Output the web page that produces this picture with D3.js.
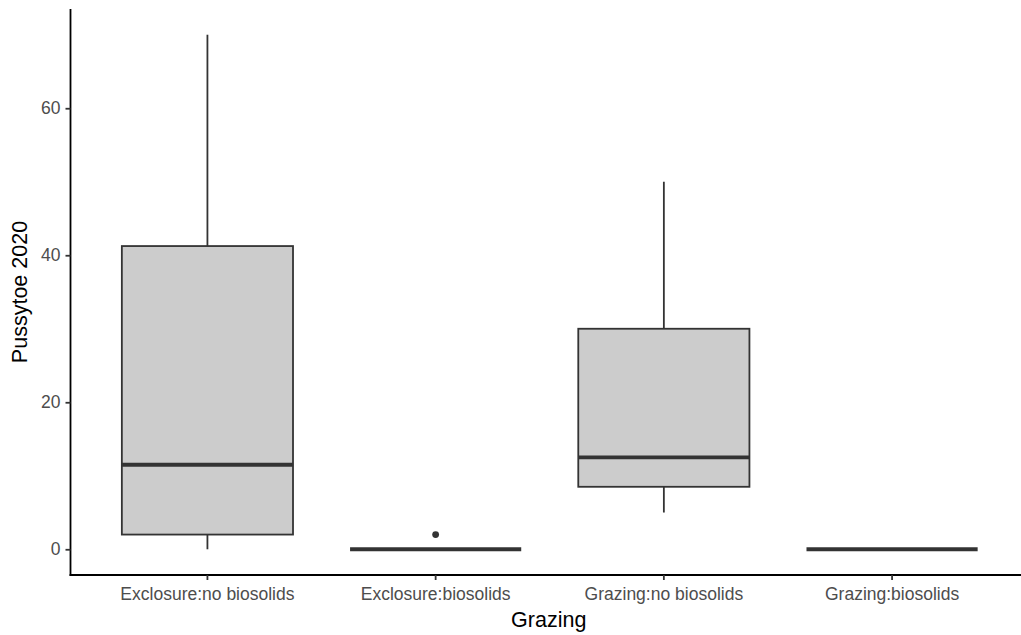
<!DOCTYPE html>
<html>
<head>
<meta charset="utf-8">
<script src="https://cdn.jsdelivr.net/npm/d3@7"></script>
<style>
  html, body { margin: 0; padding: 0; background: #ffffff; }
  svg { display: block; }
</style>
</head>
<body>
<script>
// Pussytoe cover in 2020 by grazing / biosolids treatment
const categories = ["Exclosure:no biosolids", "Exclosure:biosolids", "Grazing:no biosolids", "Grazing:biosolids"];
const whiskerLow  = [0, 0, 5, 0];
const q1          = [2, 0, 8.5, 0];
const medians     = [11.5, 0, 12.5, 0];
const q3          = [41.25, 0, 30, 0];
const whiskerHigh = [70, 0, 50, 0];
const outliers    = [[], [2], [], []];
const yTicks      = [0, 20, 40, 60];

const W = 1021, H = 635;
const panel = { left: 70.5, right: 1029, top: 9, bottom: 575 };
const font = "'Liberation Sans', Arial, sans-serif";

const svg = d3.select("body").append("svg")
  .attr("width", W).attr("height", H);

const x = d3.scaleBand()
  .domain(categories)
  .range([panel.left, panel.right])
  .paddingInner(0.25)
  .paddingOuter(0.225);

const y = d3.scaleLinear()
  .domain([-3.5, 73.5])
  .range([panel.bottom, panel.top]);

const boxes = categories.map((c, i) => ({
  cat: c, lo: whiskerLow[i], q1: q1[i], med: medians[i], q3: q3[i], hi: whiskerHigh[i], out: outliers[i]
}));

const g = svg.append("g");
const stroke = "#333333";
const lw = 1.8;
const cx = d => x(d.cat) + x.bandwidth() / 2;

// whiskers
g.selectAll("line.whisk-up").data(boxes).join("line")
  .attr("class", "whisk-up")
  .attr("x1", cx).attr("x2", cx)
  .attr("y1", d => y(d.q3)).attr("y2", d => y(d.hi))
  .attr("stroke", stroke).attr("stroke-width", lw);
g.selectAll("line.whisk-down").data(boxes).join("line")
  .attr("class", "whisk-down")
  .attr("x1", cx).attr("x2", cx)
  .attr("y1", d => y(d.q1)).attr("y2", d => y(d.lo))
  .attr("stroke", stroke).attr("stroke-width", lw);

// boxes
g.selectAll("rect.box").data(boxes).join("rect")
  .attr("class", "box")
  .attr("x", d => x(d.cat))
  .attr("width", x.bandwidth())
  .attr("y", d => y(d.q3))
  .attr("height", d => y(d.q1) - y(d.q3))
  .attr("fill", "#CCCCCC")
  .attr("stroke", stroke).attr("stroke-width", lw);

// medians
g.selectAll("line.median").data(boxes).join("line")
  .attr("class", "median")
  .attr("x1", d => x(d.cat)).attr("x2", d => x(d.cat) + x.bandwidth())
  .attr("y1", d => y(d.med)).attr("y2", d => y(d.med))
  .attr("stroke", stroke).attr("stroke-width", 3.8);

// outliers
g.selectAll("g.outliers").data(boxes).join("g")
  .attr("class", "outliers")
  .selectAll("circle").data(d => d.out.map(v => ({ cat: d.cat, v }))).join("circle")
  .attr("cx", cx)
  .attr("cy", d => y(d.v))
  .attr("r", 3.4)
  .attr("fill", stroke);

// axes
const xAxis = svg.append("g")
  .attr("transform", `translate(0,${panel.bottom})`)
  .call(d3.axisBottom(x).tickSizeOuter(0).tickSizeInner(5).tickPadding(8));
const yAxis = svg.append("g")
  .attr("transform", `translate(${panel.left},0)`)
  .call(d3.axisLeft(y).tickValues(yTicks).tickSizeOuter(0).tickSizeInner(5).tickPadding(5));

[xAxis, yAxis].forEach(a => {
  a.select(".domain").attr("stroke", "#000000").attr("stroke-width", lw);
  a.selectAll(".tick line").attr("stroke", stroke).attr("stroke-width", lw);
  a.selectAll(".tick text")
    .attr("fill", "#4D4D4D")
    .style("font-family", font)
    .style("font-size", "17.5px");
});
// axis lines meet at the corner
xAxis.select(".domain").attr("d", `M${panel.left - 0.9},0H${panel.right}`);
yAxis.select(".domain").attr("d", `M0,${panel.top}V${panel.bottom + 0.9}`);

// axis titles
svg.append("text")
  .attr("x", (panel.left + panel.right) / 2 - 1)
  .attr("y", 627)
  .attr("text-anchor", "middle")
  .style("font-family", font)
  .style("font-size", "21.5px")
  .attr("fill", "#000000")
  .text("Grazing");

svg.append("text")
  .attr("transform", `translate(27,${(panel.top + panel.bottom) / 2}) rotate(-90)`)
  .attr("text-anchor", "middle")
  .style("font-family", font)
  .style("font-size", "21.5px")
  .attr("fill", "#000000")
  .text("Pussytoe 2020");
</script>
</body>
</html>
